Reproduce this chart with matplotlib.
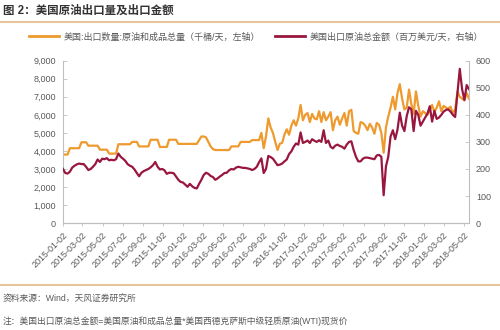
"""US crude export volume vs. export value, weekly, 2015-2018."""

import numpy as np
import pandas as pd
import matplotlib
matplotlib.use("Agg")
import matplotlib.pyplot as plt
from matplotlib.lines import Line2D
from matplotlib.ticker import FuncFormatter

plt.rcParams["font.family"] = ["Liberation Sans", "Noto Sans CJK SC", "DejaVu Sans"]

# weekly observations
dates = pd.date_range("2015-01-02", periods=177, freq="7D")

# 美国:出口数量:原油和成品总量 (千桶/天)
export_volume = [
    3800, 3800, 3800, 4150, 4150, 4150, 4150, 4150, 4480, 4480,
    4480, 4290, 4290, 4290, 4290, 4290, 4070, 4070, 4070, 4070,
    3850, 3850, 3850, 3850, 4370, 4370, 4370, 4370, 4370, 4370,
    4500, 4500, 4500, 4250, 4250, 4250, 4250, 4250, 4620, 4620,
    4620, 4620, 4220, 4220, 4220, 4220, 4620, 4620, 4620, 4620,
    4390, 4390, 4390, 4390, 4390, 4390, 4390, 4390, 4390, 4600,
    4800, 4800, 4750, 4500, 4250, 4100, 4050, 4050, 4050, 4050,
    4050, 4050, 4050, 4250, 4250, 4250, 4250, 4500, 4500, 4500,
    4500, 4500, 4600, 4600, 4600, 4600, 5000, 4150, 4800, 5800,
    5300, 5000, 4500, 4050, 4400, 4450, 4900, 5200, 4900, 5400,
    5700, 5400, 5800, 6550, 5700, 6000, 6100, 5600, 6050, 5800,
    5750, 6200, 5600, 6150, 5700, 5900, 6150, 5150, 5700, 5900,
    5450, 5800, 6100, 5400, 6200, 6280, 5100, 5000, 4950, 5600,
    5550, 5400, 5150, 5500, 5300, 4950, 5550, 5450, 5000, 3900,
    5300, 5900, 6400, 7000, 6300, 7200, 7700, 6900, 6300, 6400,
    7400, 6600, 6050, 7300, 6500, 5900, 6200, 6100, 6000, 6250,
    6550, 6150, 6400, 6750, 6200, 6500, 6400, 6350, 6450, 6100,
    6300, 7300, 7000, 6900, 6800, 7200, 6900,
]

# 美国出口原油总金额 (百万美元/天)
export_value = [
    200, 185, 183, 190, 205, 212, 217, 220, 218, 218,
    208, 196, 200, 208, 218, 235, 226, 238, 236, 240,
    232, 234, 232, 236, 257, 245, 238, 230, 218, 212,
    208, 198, 185, 173, 186, 192, 196, 200, 206, 214,
    226, 208, 198, 200, 195, 182, 186, 186, 184, 172,
    160, 152, 150, 142, 134, 145, 136, 130, 128, 145,
    160, 178, 186, 182, 174, 170, 160, 165, 172, 178,
    185, 186, 195, 200, 198, 205, 208, 206, 204, 204,
    202, 200, 196, 200, 208, 225, 239, 185, 200, 248,
    244, 238, 226, 214, 216, 220, 228, 235, 255, 265,
    282, 294, 290, 335, 296, 300, 305, 296, 310, 304,
    300, 306, 300, 343, 296, 305, 282, 276, 286, 290,
    285, 282, 275, 290, 300, 302, 270, 245, 228, 228,
    238, 242, 242, 240, 238, 236, 250, 252, 245, 103,
    210, 245, 320, 343, 310, 345, 408, 360, 340, 395,
    428, 420, 340, 415, 400, 360, 375, 390, 405, 432,
    375, 415, 385, 390, 400, 412, 418, 420, 412, 400,
    392, 480, 570, 495, 455, 510, 495,
]

tick_labels = [
    "2015-01-02", "2015-03-02", "2015-05-02", "2015-07-02", "2015-09-02",
    "2015-11-02", "2016-01-02", "2016-03-02", "2016-05-02", "2016-07-02",
    "2016-09-02", "2016-11-02", "2017-01-02", "2017-03-02", "2017-05-02",
    "2017-07-02", "2017-09-02", "2017-11-02", "2018-01-02", "2018-03-02",
    "2018-05-02",
]

ORANGE = "#EE9A2E"
MAROON = "#99173F"
TEXT = "#595959"
AXIS = "#BFBFBF"
RULE = "#E8C49A"

fig = plt.figure(figsize=(5.0, 3.3), dpi=100)
ax = fig.add_axes([0.126, 0.324, 0.812, 0.492])
ax2 = ax.twinx()

ax.plot(dates, export_volume, color=ORANGE, lw=1.6, solid_joinstyle="round")
ax2.plot(dates, export_value, color=MAROON, lw=1.6, solid_joinstyle="round")

ax.set_xlim(dates[0], dates[-1])
ax.set_ylim(0, 9000)
ax.set_yticks(np.arange(0, 9001, 1000))
ax.yaxis.set_major_formatter(FuncFormatter(lambda v, _: f"{v:,.0f}"))
ax2.set_ylim(0, 600)
ax2.set_yticks(np.arange(0, 601, 100))

ax.set_xticks(pd.to_datetime(tick_labels))
ax.set_xticklabels(tick_labels, rotation=45, ha="right", rotation_mode="anchor")

for a in (ax, ax2):
    a.spines["top"].set_visible(False)
    for s in ("left", "right", "bottom"):
        a.spines[s].set_color(AXIS)
        a.spines[s].set_linewidth(0.8)
    a.tick_params(axis="y", direction="in", length=3, width=0.6, color=AXIS,
                  labelsize=6.5, labelcolor=TEXT, pad=5)
ax.tick_params(axis="x", direction="out", length=2, width=0.6, color=AXIS,
               labelsize=6.5, labelcolor=TEXT, pad=3)
ax2.spines["left"].set_visible(False)
ax.spines["right"].set_visible(False)

handles = [Line2D([], [], color=ORANGE, lw=2), Line2D([], [], color=MAROON, lw=2)]
labels = ["美国:出口数量:原油和成品总量（千桶/天，左轴）",
          "美国出口原油总金额（百万美元/天，右轴）"]
fig.legend(handles, labels, loc="center", bbox_to_anchor=(0.512, 0.888), ncol=2,
           frameon=False, fontsize=6.5, labelcolor=TEXT, handlelength=3.4,
           handletextpad=0.5, columnspacing=1.6)

fig.text(0.006, 0.968, "图 2：美国原油出口量及出口金额", fontsize=8.3,
         fontweight="bold", color="#333333", va="center", ha="left")
fig.add_artist(Line2D([0, 1], [0.932, 0.932], color=RULE, lw=1.5))
fig.add_artist(Line2D([0, 1], [0.136, 0.136], color=RULE, lw=1.5))

fig.text(0.006, 0.097, "资料来源：Wind，天风证券研究所", fontsize=6.3,
         color=TEXT, va="center", ha="left")
fig.text(0.006, 0.028,
         "注：美国出口原油总金额=美国原油和成品总量*美国西德克萨斯中级轻质原油(WTI)现货价",
         fontsize=6.3, color=TEXT, va="center", ha="left")

fig.savefig("out.png", dpi=100, facecolor="white")
